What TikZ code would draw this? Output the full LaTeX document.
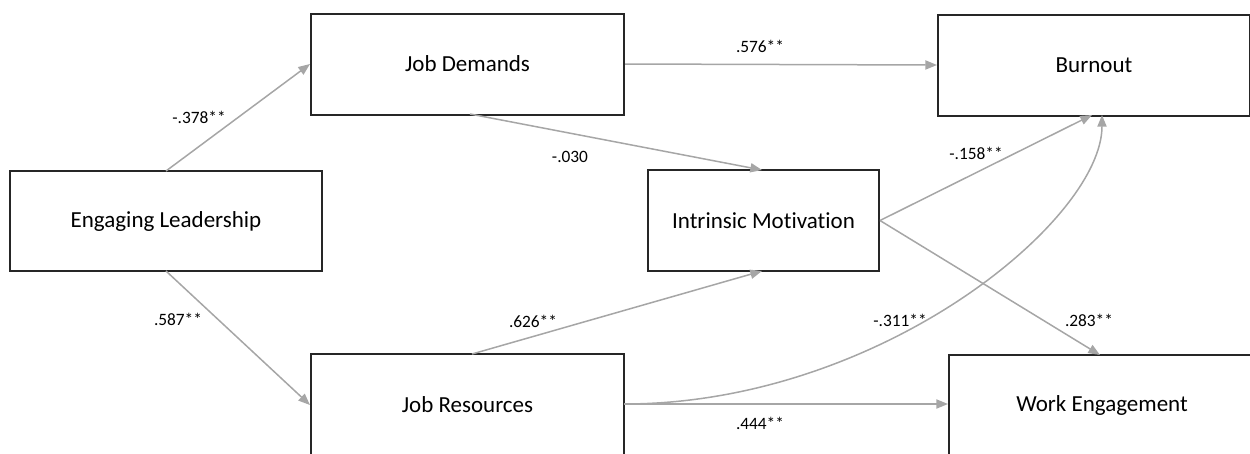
\documentclass[tikz,border=0pt]{standalone}
\usepackage{fontspec}
\setmainfont{Carlito}[Ligatures=CommonOff]
\usetikzlibrary{arrows.meta}
\definecolor{arr}{HTML}{A6A6A6}
\definecolor{bord}{HTML}{262626}
\tikzset{
  box/.style={draw=bord, line width=1.2pt, fill=white, inner sep=0pt, font=\fontsize{13.8}{16}\selectfont},
  conn/.style={draw=arr, line width=0.9pt, -{Triangle[length=7pt,width=5.5pt]}},
  lab/.style={font=\fontsize{10.4}{12}\selectfont, text=black, inner sep=0pt},
}
\begin{document}
\begin{tikzpicture}[x=0.6pt,y=-0.6pt]
\useasboundingbox (0,0) rectangle (1250,453);
\clip (0,0) rectangle (1250,453);
\node[box, minimum width=312*0.6pt, minimum height=100*0.6pt] (el) at (166,221) {Engaging Leadership};
\node[box, minimum width=313*0.6pt, minimum height=101*0.6pt] (jd) at (467.5,64) {Job Demands};
\node[box, minimum width=312*0.6pt, minimum height=101*0.6pt] (bo) at (1094,65) {Burnout};
\node[box, minimum width=231*0.6pt, minimum height=101*0.6pt] (im) at (763.5,220.5) {Intrinsic Motivation};
\node[box, minimum width=313*0.6pt, minimum height=102*0.6pt] (jr) at (467.5,405) {Job Resources};
\node[box, minimum width=306*0.6pt, minimum height=100*0.6pt] (we) at (1102,405) {Work Engagement};

\coordinate (elT) at (166,171);
\coordinate (elB) at (166,271);
\coordinate (jdB) at (470,114);
\coordinate (imT) at (762,170);
\coordinate (jrT) at (472,354);
\coordinate (imB) at (762,271);
\coordinate (boB1) at (1092,115);
\coordinate (boB2) at (1102,115);
\coordinate (weT) at (1100,355);
\coordinate (jrR) at (624,404);

\draw[conn] (elT) -- (jd.west);
\draw[conn] (elB) -- (jr.west);
\draw[conn] (jd.east) -- (bo.west);
\draw[conn] (jdB) -- (imT);
\draw[conn] (jrT) -- (imB);
\draw[conn] (im.east) -- (boB1);
\draw[conn] (im.east) -- (weT);
\draw[conn] (jrR) .. controls (880,404) and (1102,220) .. (boB2);
\draw[conn] (jrR) -- (we.west |- jrR);

\node[lab] (l1) at (199,117) {-.378**};
\node[lab] (l2) at (178,319) {.587**};
\node[lab] (l3) at (760,46) {.576**};
\node[lab] (l4) at (570,157) {-.030};
\node[lab] (l5) at (533,321) {.626**};
\node[lab] (l6) at (976,153) {-.158**};
\node[lab] (l7) at (900,320) {-.311**};
\node[lab] (l8) at (1089,320) {.283**};
\node[lab] (l9) at (760,423) {.444**};
\end{tikzpicture}
\end{document}
